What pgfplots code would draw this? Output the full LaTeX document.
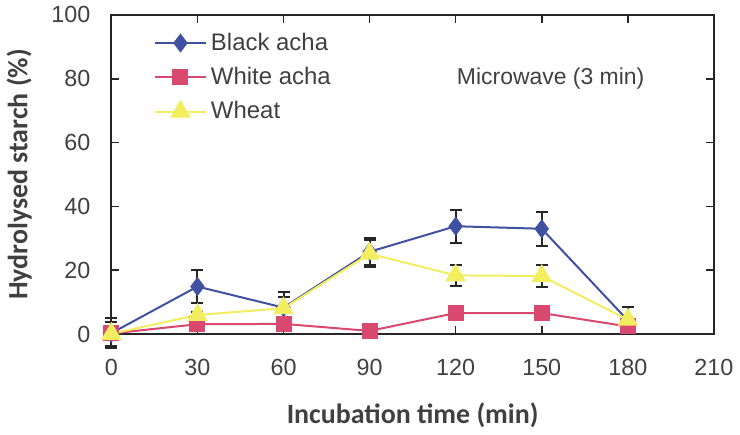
\documentclass[border=0pt]{standalone}
\usepackage{pgfplots}
\pgfplotsset{compat=1.18}
\usepackage{fontspec}
\setmainfont{Liberation Sans}
\newfontfamily\carlito{Carlito}
\definecolor{cblue}{HTML}{3F51A0}
\definecolor{cpink}{HTML}{D9486F}
\definecolor{cyel}{HTML}{F2EE60}
\begin{document}
\begin{tikzpicture}
\begin{axis}[
  scale only axis, width=302pt, height=160pt,
  xmin=0, xmax=210, ymin=0, ymax=100,
  xtick={0,30,...,210}, ytick={0,20,...,100},
  /pgf/number format/assume math mode=true,
  tick label style={font=\fontsize{11.7}{13}\selectfont, color=black!75},
  xticklabel style={yshift=-9pt},
  yticklabel style={xshift=-7pt},
  xlabel={Incubation time (min)},
  ylabel={Hydrolysed starch (\%)},
  label style={font=\carlito\bfseries\fontsize{14}{16}\selectfont, color=black!75},
  xlabel style={at={(axis description cs:0.5,-0.255)}, anchor=center},
  ylabel style={at={(axis description cs:-0.153,0.5)}, anchor=center},
  axis line style={black!85, line width=0.9pt},
  tick style={black!85, line width=0.8pt},
  major tick length=4pt,
  clip=false,
  legend style={draw=none, fill=none, at={(0.06,0.97)}, anchor=north west, font=\fontsize{12}{14}\selectfont, row sep=3pt, text=black!75},
  legend image code/.code={\draw[mark repeat=2, mark phase=2] plot coordinates {(0cm,0cm) (0.45cm,0cm) (0.9cm,0cm)};},
  legend cell align=left,
  every axis plot/.append style={line width=1pt},
  error bars/error bar style={black!85, line width=1pt},
  error bars/error mark options={rotate=90, black!85, mark size=3pt, line width=1pt},
]
\addplot[color=cblue, mark=diamond*, mark size=4pt, mark options={fill=cblue},
  error bars/.cd, y dir=both, y explicit] coordinates {
  (0,0.3) +- (0,4.8)
  (30,14.9) +- (0,5.3)
  (60,8.3) +- (0,5.0)
  (90,25.8) +- (0,4.2)
  (120,33.8) +- (0,5.1)
  (150,33.0) +- (0,5.3)
  (180,4.3) +- (0,4.3)
};
\addlegendentry{Black acha}
\addplot[color=cpink, mark=square*, mark size=3.5pt, mark options={fill=cpink},
  error bars/.cd, y dir=both, y explicit] coordinates {
  (0,0.2) +- (0,0.5)
  (30,3.1) +- (0,0.5)
  (60,3.2) +- (0,0.5)
  (90,1.0) +- (0,0.5)
  (120,6.6) +- (0,0.5)
  (150,6.6) +- (0,0.5)
  (180,2.4) +- (0,0.5)
};
\addlegendentry{White acha}
\addplot[color=cyel, mark=triangle*, mark size=5pt, mark options={fill=cyel},
  error bars/.cd, y dir=both, y explicit] coordinates {
  (0,0.1) +- (0,3.8)
  (30,6.0) +- (0,1.0)
  (60,8.1) +- (0,3.6)
  (90,25.2) +- (0,4.3)
  (120,18.4) +- (0,3.3)
  (150,18.2) +- (0,3.3)
  (180,4.5) +- (0,4.1)
};
\addlegendentry{Wheat}
\node[anchor=west, font=\fontsize{11.5}{13}\selectfont, text=black!75] at (axis cs:118,80) {Microwave (3 min)};
\end{axis}
\end{tikzpicture}
\end{document}
